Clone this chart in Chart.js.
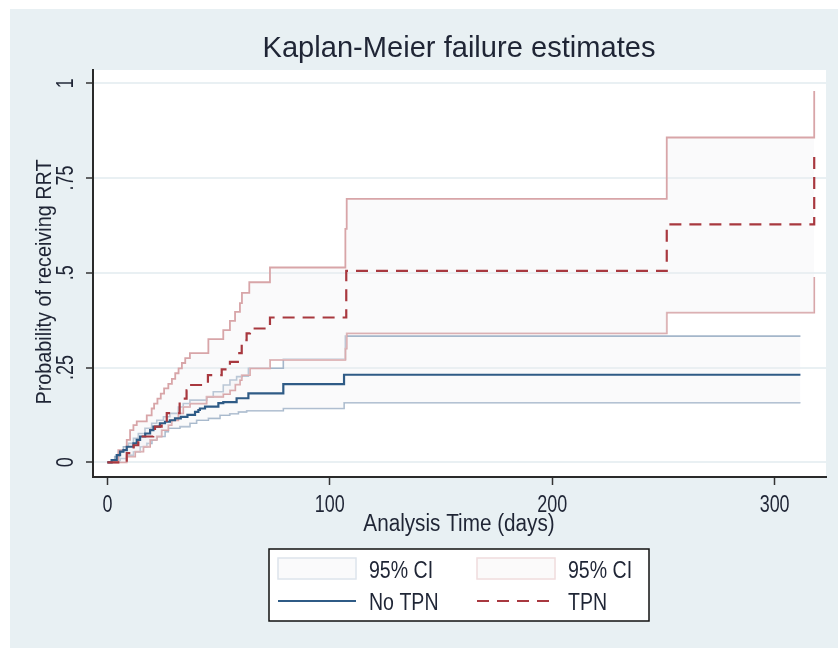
<!DOCTYPE html>
<html>
<head>
<meta charset="utf-8">
<script src="https://cdn.jsdelivr.net/npm/chart.js@4.4.0/dist/chart.umd.min.js"></script>
<style>
  html, body { margin: 0; padding: 0; background: #fff; }
  #wrap { position: relative; width: 838px; height: 648px; }
</style>
</head>
<body>
<div id="wrap"><canvas id="km" width="838" height="648"></canvas></div>
<script>
// ---- DATA ----
const xTicks = [0, 100, 200, 300];
const yTicks = [0, 0.25, 0.5, 0.75, 1];
const yTickLabels = ['0', '.25', '.5', '.75', '1'];

// TPN: failure estimate + 95% CI
const tpnEstT = [0, 8.7, 11.8, 13.9, 20.6, 21.4, 24.4, 26.7, 32.5, 35.6, 37.1, 45.2, 51.4, 55.1, 59.3, 60.4, 62.6, 64.1, 73.1, 107.4, 251.5, 317.8];
const tpnEstY = [0, 0.024, 0.045, 0.068, 0.081, 0.094, 0.110, 0.130, 0.168, 0.190, 0.204, 0.230, 0.245, 0.265, 0.288, 0.322, 0.340, 0.353, 0.382, 0.505, 0.628, 0.811];
const tpnHiT = [0, 4.9, 8.7, 10.2, 11.7, 13.2, 17.7, 19.9, 21.0, 22.5, 24.0, 25.5, 27.4, 29.0, 30.5, 32.0, 33.5, 35.0, 37.1, 45.4, 52.1, 55.1, 57.4, 59.6, 60.5, 63.8, 73.1, 107.0, 107.6, 251.5, 317.8];
const tpnHiY = [0, 0.032, 0.059, 0.085, 0.098, 0.108, 0.124, 0.142, 0.155, 0.168, 0.181, 0.195, 0.207, 0.220, 0.235, 0.248, 0.262, 0.275, 0.288, 0.325, 0.349, 0.373, 0.397, 0.420, 0.447, 0.475, 0.514, 0.616, 0.695, 0.857, 0.980];
const tpnLoT = [0, 8.7, 12.5, 16.2, 19.2, 22.2, 24.4, 27.4, 28.9, 31.9, 34.1, 37.1, 44.6, 52.1, 55.1, 57.5, 59.6, 60.4, 64.1, 73.1, 107.0, 107.6, 251.5, 317.8];
const tpnLoY = [0, 0.015, 0.028, 0.041, 0.059, 0.068, 0.085, 0.098, 0.111, 0.129, 0.146, 0.155, 0.173, 0.180, 0.190, 0.205, 0.217, 0.230, 0.248, 0.270, 0.300, 0.340, 0.395, 0.489];

// No TPN: failure estimate + 95% CI
const noEstT = [0, 1.9, 4.2, 5.7, 7.2, 8.7, 11.7, 13.2, 14.7, 17.0, 19.2, 20.7, 23.6, 25.9, 28.1, 30.4, 33.0, 36.0, 39.4, 40.9, 41.6, 43.9, 49.9, 52.1, 58.1, 63.4, 79.1, 106.4, 311.6];
const noEstY = [0, 0.006, 0.019, 0.028, 0.032, 0.041, 0.050, 0.059, 0.068, 0.076, 0.085, 0.094, 0.103, 0.107, 0.111, 0.116, 0.120, 0.125, 0.133, 0.138, 0.142, 0.147, 0.156, 0.159, 0.169, 0.182, 0.206, 0.231, 0.231];
const noHiT = [0, 3.3, 5.4, 7.2, 9.4, 11.7, 13.9, 16.9, 19.9, 22.2, 25.2, 28.1, 31.9, 34.1, 37.1, 44.6, 47.6, 52.1, 55.1, 58.1, 60.4, 63.4, 79.1, 107.0, 311.6];
const noHiY = [0, 0.015, 0.028, 0.041, 0.050, 0.063, 0.076, 0.090, 0.103, 0.111, 0.120, 0.129, 0.146, 0.155, 0.164, 0.173, 0.186, 0.204, 0.217, 0.226, 0.228, 0.248, 0.272, 0.333, 0.333];
const noLoT = [0, 3.0, 5.7, 8.7, 11.7, 14.7, 17.7, 20.0, 22.2, 25.9, 27.4, 32.6, 37.1, 40.1, 45.4, 50.6, 55.0, 58.9, 62.6, 79.1, 106.4, 311.6];
const noLoY = [0, 0.004, 0.010, 0.019, 0.028, 0.041, 0.050, 0.059, 0.068, 0.081, 0.090, 0.094, 0.103, 0.111, 0.116, 0.124, 0.128, 0.133, 0.136, 0.142, 0.157, 0.157];

// ---- STYLE ----
const FONT = '"Liberation Sans", Arial, sans-serif';
const TXT = '#1f2535';
const NAVY = '#2f5b86', NAVY_CI = '#a4b6ca';
const RED = '#a8383f', RED_CI = '#d8a5a8';
const CI_FILL = 'rgba(238,238,242,0.3)';
const DASH = [12, 8];

const pts = (t, y) => t.map((v, i) => ({ x: v, y: y[i] }));

// text with horizontal squeeze (the original output is a bit condensed)
function txt(ctx, s, x, y, size, squeeze, align, rot) {
  ctx.save();
  ctx.font = size + 'px ' + FONT;
  ctx.fillStyle = TXT;
  ctx.textBaseline = 'alphabetic';
  ctx.textAlign = align || 'center';
  ctx.translate(x, y);
  if (rot) ctx.rotate(rot);
  ctx.scale(squeeze, 1);
  ctx.fillText(s, 0, 0);
  ctx.restore();
}

const backdrop = {
  id: 'backdrop',
  beforeDraw(chart) {
    const { ctx, chartArea: a } = chart;
    ctx.save();
    ctx.fillStyle = '#fff';
    ctx.fillRect(0, 0, chart.width, chart.height);
    ctx.fillStyle = '#e8f0f3';
    ctx.fillRect(10, 9, chart.width - 10, chart.height - 9);
    ctx.fillStyle = '#fff';
    ctx.fillRect(a.left, a.top, a.right - a.left, a.bottom - a.top);
    ctx.restore();
  }
};

const labels = {
  id: 'labels',
  afterDraw(chart) {
    const { ctx } = chart;
    const xs = chart.scales.x, ys = chart.scales.y;

    txt(ctx, 'Kaplan-Meier failure estimates', 459, 57, 30, 0.97);

    xTicks.forEach(v => txt(ctx, String(v), xs.getPixelForValue(v), 512, 23, 0.78));
    yTicks.forEach((v, i) => txt(ctx, yTickLabels[i], 73, ys.getPixelForValue(v), 23, 0.78, 'center', -Math.PI / 2));

    txt(ctx, 'Analysis Time (days)', 459, 531, 23, 0.9);
    txt(ctx, 'Probability of receiving RRT', 51, 282, 22, 0.9, 'center', -Math.PI / 2);

    // ---- legend ----
    ctx.save();
    ctx.fillStyle = '#fff';
    ctx.fillRect(269, 549, 380, 72);
    ctx.strokeStyle = '#111';
    ctx.lineWidth = 1.5;
    ctx.strokeRect(269, 549, 380, 72);

    ctx.fillStyle = '#fafafb';
    ctx.fillRect(278, 558, 78, 21);
    ctx.strokeStyle = '#dde4ec';
    ctx.strokeRect(278, 558, 78, 21);
    ctx.fillStyle = '#fbfafa';
    ctx.fillRect(477, 558, 78, 21);
    ctx.strokeStyle = '#f0dcdd';
    ctx.strokeRect(477, 558, 78, 21);

    ctx.lineWidth = 2.2;
    ctx.strokeStyle = NAVY;
    ctx.beginPath(); ctx.moveTo(278, 601); ctx.lineTo(356, 601); ctx.stroke();
    ctx.strokeStyle = RED;
    ctx.setLineDash(DASH);
    ctx.beginPath(); ctx.moveTo(477, 601); ctx.lineTo(556, 601); ctx.stroke();
    ctx.restore();

    txt(ctx, '95% CI', 369, 578, 23, 0.85, 'left');
    txt(ctx, '95% CI', 568, 578, 23, 0.85, 'left');
    txt(ctx, 'No TPN', 369, 610, 23, 0.85, 'left');
    txt(ctx, 'TPN', 568, 610, 23, 0.85, 'left');
  }
};

new Chart(document.getElementById('km'), {
  type: 'line',
  data: {
    datasets: [
      { label: 'TPN', data: pts(tpnEstT, tpnEstY), borderColor: RED, borderWidth: 2.2, borderDash: DASH, stepped: 'before', fill: false },
      { label: 'No TPN', data: pts(noEstT, noEstY), borderColor: NAVY, borderWidth: 2.2, stepped: 'before', fill: false },
      { label: 'TPN CI upper', data: pts(tpnHiT, tpnHiY), borderColor: RED_CI, borderWidth: 1.8, stepped: 'before', fill: '+1', backgroundColor: CI_FILL },
      { label: 'TPN CI lower', data: pts(tpnLoT, tpnLoY), borderColor: RED_CI, borderWidth: 1.8, stepped: 'before', fill: false },
      { label: 'No TPN CI upper', data: pts(noHiT, noHiY), borderColor: NAVY_CI, borderWidth: 1.6, stepped: 'before', fill: '+1', backgroundColor: CI_FILL },
      { label: 'No TPN CI lower', data: pts(noLoT, noLoY), borderColor: NAVY_CI, borderWidth: 1.6, stepped: 'before', fill: false }
    ]
  },
  options: {
    responsive: false,
    animation: false,
    layout: { padding: { left: 0, top: 70, right: 12, bottom: 0 } },
    elements: { point: { radius: 0 }, line: { tension: 0 } },
    plugins: { legend: { display: false }, tooltip: { enabled: false } },
    scales: {
      x: {
        type: 'linear', min: -6.47, max: 323.1,
        afterBuildTicks: s => { s.ticks = xTicks.map(v => ({ value: v })); },
        afterFit: s => { s.height = 171; },
        ticks: { display: false },
        grid: { drawOnChartArea: false, drawTicks: true, tickLength: 8, tickColor: '#333', tickWidth: 1.5 },
        border: { display: true, color: '#2a2a2a', width: 2 }
      },
      y: {
        type: 'linear', min: -0.0388, max: 1.0351,
        afterBuildTicks: s => { s.ticks = yTicks.map(v => ({ value: v })); },
        afterFit: s => { s.width = 93; },
        ticks: { display: false },
        grid: { color: '#e9f0f3', lineWidth: 2, drawTicks: true, tickLength: 7, tickColor: '#333', tickWidth: 1.5 },
        border: { display: true, color: '#2a2a2a', width: 2 }
      }
    }
  },
  plugins: [backdrop, labels]
});
</script>
</body>
</html>
